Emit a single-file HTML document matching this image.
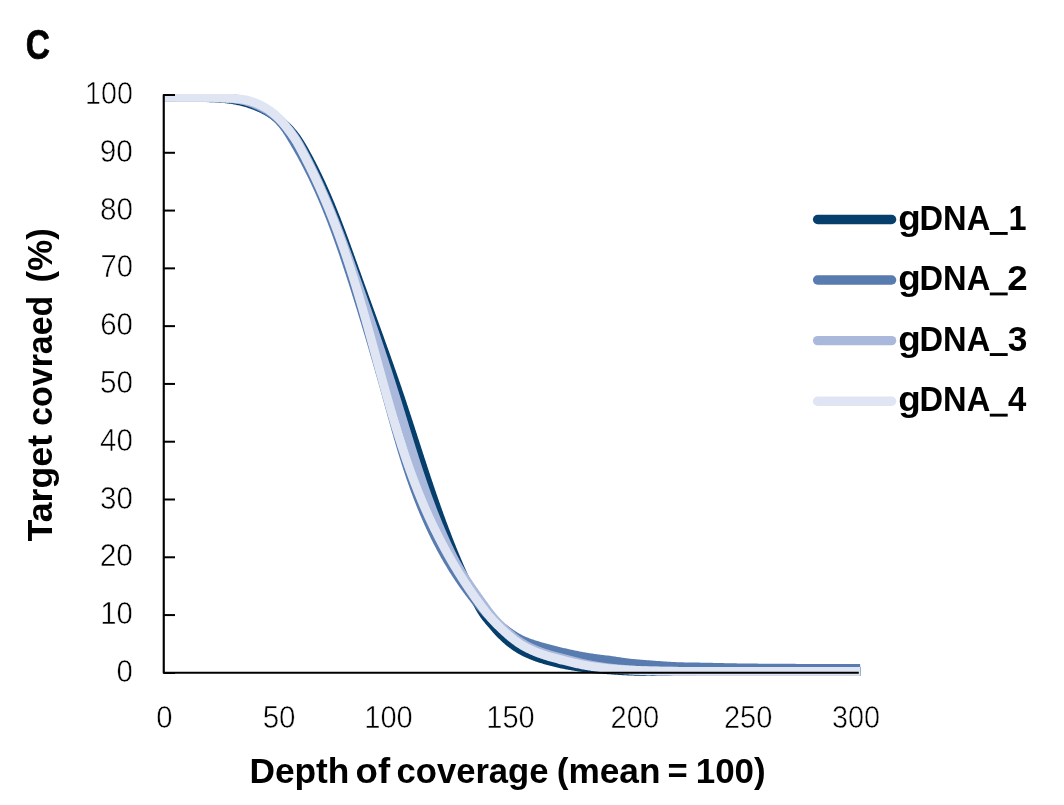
<!DOCTYPE html>
<html lang="en">
<head>
<meta charset="utf-8">
<title>Figure C - Depth of coverage</title>
<style>
html,body{margin:0;padding:0;background:#fff;}
body{width:1064px;height:805px;overflow:hidden;font-family:"Liberation Sans",sans-serif;}
svg{display:block;}
text{font-family:"Liberation Sans",sans-serif;fill:#000;}
.tick{font-size:30px;font-weight:400;}
.bold{font-weight:700;}
</style>
</head>
<body>
<svg width="1064" height="805" viewBox="0 0 1064 805">
<rect x="0" y="0" width="1064" height="805" fill="#ffffff"/>
<defs><clipPath id="plotclip"><rect x="164.85" y="94.0" width="695.95" height="600"/></clipPath></defs>
<g fill="none" stroke-width="8.8" stroke-linecap="butt" stroke-linejoin="round" clip-path="url(#plotclip)">
<path stroke="#063f6c" d="M164.90,97.40L165.90,97.40L166.90,97.40L167.90,97.40L168.90,97.40L169.90,97.40L170.90,97.40L171.90,97.40L172.90,97.40L173.90,97.40L174.90,97.40L175.90,97.40L176.90,97.40L177.90,97.40L178.90,97.40L179.90,97.40L180.90,97.41L181.90,97.41L182.90,97.41L183.90,97.41L184.90,97.42L185.90,97.42L186.90,97.42L187.90,97.43L188.90,97.43L189.90,97.44L190.90,97.44L191.90,97.45L192.90,97.45L193.90,97.46L194.90,97.47L195.90,97.48L196.90,97.49L197.90,97.50L198.90,97.51L199.90,97.53L200.90,97.54L201.90,97.56L202.90,97.57L203.90,97.59L204.90,97.62L205.90,97.64L206.90,97.66L207.90,97.69L208.90,97.72L209.90,97.76L210.90,97.79L211.90,97.83L212.89,97.87L213.89,97.92L214.89,97.96L215.89,98.02L216.89,98.07L217.89,98.13L218.88,98.20L219.88,98.27L220.88,98.34L221.87,98.42L222.87,98.51L223.87,98.60L224.86,98.69L225.85,98.79L226.85,98.90L227.84,99.02L228.83,99.14L229.82,99.27L230.81,99.41L231.80,99.56L232.79,99.71L233.77,99.88L234.75,100.05L235.74,100.23L236.72,100.43L237.70,100.63L238.67,100.84L239.65,101.05L240.62,101.28L241.59,101.52L242.56,101.76L243.53,102.02L244.49,102.28L245.45,102.55L246.41,102.83L247.37,103.11L248.32,103.41L249.28,103.71L250.23,104.02L251.17,104.34L252.12,104.67L253.06,105.01L253.99,105.35L254.93,105.71L255.86,106.07L256.79,106.45L257.71,106.83L258.63,107.22L259.54,107.62L260.45,108.03L261.36,108.45L262.26,108.88L263.15,109.32L264.04,109.78L264.93,110.24L265.80,110.71L266.68,111.20L267.54,111.69L268.40,112.20L269.25,112.72L270.10,113.24L270.94,113.78L271.77,114.33L272.60,114.89L273.42,115.46L274.24,116.04L275.05,116.62L275.85,117.21L276.65,117.82L277.44,118.42L278.23,119.04L279.01,119.66L279.79,120.29L280.56,120.93L281.33,121.57L282.09,122.22L282.85,122.88L283.59,123.54L284.34,124.21L285.07,124.89L285.80,125.57L286.52,126.26L287.24,126.96L287.94,127.67L288.64,128.38L289.33,129.10L290.01,129.83L290.68,130.57L291.34,131.31L292.00,132.07L292.64,132.83L293.28,133.60L293.91,134.37L294.52,135.16L295.13,135.95L295.73,136.75L296.32,137.56L296.89,138.37L297.46,139.19L298.02,140.02L298.57,140.85L299.12,141.69L299.65,142.53L300.18,143.38L300.70,144.23L301.21,145.09L301.72,145.95L302.23,146.81L302.73,147.68L303.23,148.54L303.72,149.41L304.21,150.28L304.70,151.16L305.19,152.03L305.67,152.90L306.15,153.78L306.64,154.66L307.11,155.54L307.59,156.41L308.06,157.29L308.54,158.18L309.01,159.06L309.48,159.94L309.94,160.83L310.41,161.71L310.87,162.60L311.33,163.49L311.79,164.37L312.25,165.26L312.70,166.15L313.15,167.05L313.60,167.94L314.05,168.83L314.50,169.73L314.95,170.62L315.39,171.52L315.83,172.41L316.27,173.31L316.71,174.21L317.14,175.11L317.58,176.01L318.01,176.91L318.44,177.82L318.87,178.72L319.30,179.62L319.72,180.53L320.15,181.43L320.57,182.34L320.99,183.25L321.41,184.16L321.82,185.07L322.24,185.98L322.65,186.89L323.06,187.80L323.47,188.71L323.88,189.62L324.29,190.54L324.69,191.45L325.10,192.36L325.50,193.28L325.90,194.20L326.30,195.11L326.70,196.03L327.09,196.95L327.49,197.87L327.88,198.79L328.27,199.71L328.66,200.63L329.05,201.55L329.44,202.47L329.82,203.39L330.21,204.32L330.59,205.24L330.97,206.17L331.35,207.09L331.73,208.02L332.11,208.94L332.48,209.87L332.86,210.80L333.23,211.72L333.61,212.65L333.98,213.58L334.35,214.51L334.72,215.44L335.08,216.37L335.45,217.30L335.82,218.23L336.18,219.16L336.54,220.09L336.91,221.02L337.27,221.96L337.63,222.89L337.99,223.82L338.35,224.76L338.70,225.69L339.06,226.62L339.42,227.56L339.77,228.49L340.12,229.43L340.48,230.36L340.83,231.30L341.18,232.24L341.53,233.17L341.88,234.11L342.23,235.05L342.58,235.98L342.93,236.92L343.27,237.86L343.62,238.80L343.96,239.74L344.31,240.67L344.65,241.61L345.00,242.55L345.34,243.49L345.68,244.43L346.03,245.37L346.37,246.31L346.71,247.25L347.05,248.19L347.39,249.13L347.73,250.07L348.07,251.01L348.41,251.95L348.75,252.89L349.09,253.83L349.42,254.78L349.76,255.72L350.10,256.66L350.44,257.60L350.77,258.54L351.11,259.48L351.45,260.42L351.78,261.37L352.12,262.31L352.46,263.25L352.79,264.19L353.13,265.13L353.47,266.07L353.80,267.02L354.14,267.96L354.48,268.90L354.81,269.84L355.15,270.78L355.49,271.72L355.82,272.67L356.16,273.61L356.50,274.55L356.83,275.49L357.17,276.43L357.51,277.37L357.85,278.31L358.18,279.26L358.52,280.20L358.86,281.14L359.20,282.08L359.54,283.02L359.88,283.96L360.22,284.90L360.55,285.84L360.89,286.78L361.23,287.72L361.57,288.66L361.91,289.60L362.25,290.55L362.59,291.49L362.93,292.43L363.27,293.37L363.61,294.31L363.95,295.25L364.29,296.19L364.63,297.13L364.97,298.07L365.31,299.01L365.65,299.95L365.99,300.89L366.34,301.83L366.68,302.77L367.02,303.71L367.36,304.65L367.70,305.59L368.04,306.53L368.38,307.47L368.72,308.41L369.06,309.35L369.40,310.29L369.75,311.23L370.09,312.17L370.43,313.11L370.77,314.05L371.11,314.99L371.45,315.93L371.79,316.87L372.13,317.81L372.47,318.75L372.82,319.69L373.16,320.63L373.50,321.57L373.84,322.51L374.18,323.45L374.52,324.39L374.86,325.33L375.20,326.27L375.54,327.21L375.88,328.15L376.22,329.09L376.56,330.03L376.90,330.97L377.24,331.91L377.58,332.85L377.92,333.79L378.26,334.73L378.60,335.68L378.94,336.62L379.28,337.56L379.62,338.50L379.96,339.44L380.29,340.38L380.63,341.32L380.97,342.26L381.31,343.20L381.65,344.14L381.98,345.09L382.32,346.03L382.66,346.97L383.00,347.91L383.33,348.85L383.67,349.79L384.01,350.73L384.34,351.68L384.68,352.62L385.01,353.56L385.35,354.50L385.68,355.44L386.02,356.39L386.35,357.33L386.69,358.27L387.02,359.21L387.36,360.16L387.69,361.10L388.02,362.04L388.36,362.98L388.69,363.93L389.02,364.87L389.35,365.81L389.68,366.76L390.02,367.70L390.35,368.65L390.68,369.59L391.01,370.53L391.34,371.48L391.67,372.42L392.00,373.37L392.32,374.31L392.65,375.25L392.98,376.20L393.31,377.14L393.64,378.09L393.96,379.03L394.29,379.98L394.62,380.92L394.94,381.87L395.27,382.82L395.59,383.76L395.92,384.71L396.24,385.65L396.56,386.60L396.89,387.55L397.21,388.49L397.53,389.44L397.85,390.39L398.17,391.33L398.49,392.28L398.81,393.23L399.13,394.17L399.45,395.12L399.77,396.07L400.09,397.02L400.41,397.97L400.73,398.91L401.04,399.86L401.36,400.81L401.68,401.76L401.99,402.71L402.31,403.66L402.62,404.61L402.94,405.56L403.25,406.51L403.56,407.46L403.88,408.41L404.19,409.36L404.50,410.30L404.81,411.25L405.13,412.21L405.44,413.16L405.75,414.11L406.06,415.06L406.37,416.01L406.68,416.96L406.99,417.91L407.30,418.86L407.61,419.81L407.92,420.76L408.23,421.71L408.54,422.66L408.85,423.61L409.15,424.57L409.46,425.52L409.77,426.47L410.08,427.42L410.39,428.37L410.69,429.32L411.00,430.27L411.31,431.23L411.62,432.18L411.92,433.13L412.23,434.08L412.54,435.03L412.85,435.98L413.15,436.94L413.46,437.89L413.77,438.84L414.07,439.79L414.38,440.74L414.69,441.69L414.99,442.65L415.30,443.60L415.61,444.55L415.91,445.50L416.22,446.45L416.53,447.40L416.84,448.36L417.14,449.31L417.45,450.26L417.76,451.21L418.06,452.16L418.37,453.11L418.68,454.07L418.99,455.02L419.30,455.97L419.60,456.92L419.91,457.87L420.22,458.82L420.53,459.77L420.84,460.72L421.15,461.67L421.46,462.63L421.77,463.58L422.08,464.53L422.39,465.48L422.70,466.43L423.01,467.38L423.32,468.33L423.63,469.28L423.94,470.23L424.26,471.18L424.57,472.13L424.88,473.08L425.20,474.03L425.51,474.98L425.82,475.93L426.14,476.88L426.45,477.83L426.77,478.78L427.08,479.72L427.40,480.67L427.72,481.62L428.03,482.57L428.35,483.52L428.67,484.47L428.99,485.41L429.30,486.36L429.62,487.31L429.94,488.26L430.26,489.20L430.59,490.15L430.91,491.10L431.23,492.05L431.55,492.99L431.87,493.94L432.20,494.88L432.52,495.83L432.85,496.78L433.17,497.72L433.50,498.67L433.83,499.61L434.15,500.56L434.48,501.50L434.81,502.45L435.14,503.39L435.47,504.33L435.80,505.28L436.13,506.22L436.47,507.16L436.80,508.11L437.13,509.05L437.47,509.99L437.80,510.93L438.14,511.88L438.48,512.82L438.81,513.76L439.15,514.70L439.49,515.64L439.83,516.58L440.17,517.52L440.51,518.46L440.86,519.40L441.20,520.34L441.54,521.28L441.89,522.22L442.23,523.15L442.58,524.09L442.93,525.03L443.28,525.97L443.63,526.90L443.98,527.84L444.33,528.78L444.68,529.71L445.03,530.65L445.39,531.58L445.74,532.52L446.10,533.45L446.46,534.39L446.81,535.32L447.17,536.25L447.53,537.19L447.89,538.12L448.26,539.05L448.62,539.98L448.98,540.91L449.35,541.85L449.72,542.78L450.08,543.71L450.45,544.64L450.82,545.57L451.19,546.49L451.56,547.42L451.94,548.35L452.31,549.28L452.69,550.20L453.06,551.13L453.44,552.06L453.82,552.98L454.20,553.91L454.58,554.83L454.96,555.76L455.35,556.68L455.73,557.60L456.12,558.52L456.51,559.45L456.89,560.37L457.29,561.29L457.68,562.21L458.07,563.13L458.47,564.05L458.86,564.96L459.26,565.88L459.66,566.80L460.06,567.71L460.46,568.63L460.87,569.54L461.27,570.46L461.68,571.37L462.09,572.28L462.50,573.20L462.91,574.11L463.32,575.02L463.73,575.93L464.15,576.84L464.57,577.75L464.99,578.65L465.41,579.56L465.83,580.47L466.26,581.37L466.68,582.28L467.11,583.18L467.54,584.08L467.98,584.98L468.41,585.89L468.84,586.79L469.28,587.68L469.72,588.58L470.16,589.48L470.60,590.38L471.05,591.27L471.49,592.17L471.94,593.06L472.39,593.95L472.84,594.85L473.30,595.74L473.75,596.63L474.21,597.52L474.67,598.41L475.13,599.29L475.59,600.18L476.06,601.06L476.53,601.95L477.00,602.83L477.47,603.71L477.94,604.59L478.42,605.47L478.90,606.35L479.39,607.22L479.88,608.09L480.38,608.95L480.89,609.81L481.40,610.67L481.92,611.51L482.46,612.35L483.00,613.19L483.56,614.01L484.12,614.83L484.70,615.64L485.29,616.44L485.89,617.24L486.50,618.03L487.12,618.81L487.75,619.59L488.38,620.36L489.02,621.13L489.67,621.90L490.32,622.67L490.97,623.43L491.62,624.19L492.28,624.95L492.93,625.71L493.59,626.47L494.25,627.22L494.91,627.98L495.58,628.73L496.24,629.48L496.91,630.22L497.59,630.96L498.26,631.70L498.94,632.43L499.63,633.16L500.32,633.88L501.02,634.60L501.72,635.30L502.43,636.01L503.14,636.70L503.86,637.39L504.59,638.07L505.33,638.74L506.07,639.40L506.82,640.06L507.58,640.71L508.34,641.36L509.11,641.99L509.89,642.62L510.68,643.24L511.47,643.85L512.27,644.45L513.07,645.04L513.88,645.63L514.70,646.20L515.53,646.76L516.36,647.32L517.20,647.86L518.04,648.39L518.89,648.91L519.75,649.42L520.61,649.91L521.48,650.40L522.35,650.88L523.23,651.34L524.12,651.80L525.01,652.25L525.91,652.68L526.81,653.11L527.72,653.53L528.63,653.93L529.55,654.33L530.47,654.72L531.40,655.11L532.32,655.48L533.25,655.85L534.19,656.21L535.12,656.56L536.06,656.90L537.01,657.24L537.95,657.57L538.90,657.89L539.84,658.21L540.79,658.52L541.75,658.83L542.70,659.12L543.66,659.42L544.62,659.70L545.58,659.99L546.54,660.26L547.50,660.53L548.46,660.80L549.43,661.06L550.39,661.32L551.36,661.58L552.33,661.82L553.30,662.07L554.27,662.31L555.24,662.55L556.22,662.78L557.19,663.01L558.16,663.23L559.14,663.45L560.12,663.66L561.09,663.88L562.07,664.08L563.05,664.28L564.03,664.48L565.01,664.68L565.99,664.87L566.98,665.05L567.96,665.23L568.94,665.41L569.93,665.59L570.91,665.76L571.90,665.93L572.88,666.10L573.87,666.26L574.86,666.42L575.85,666.58L576.83,666.73L577.82,666.88L578.81,667.03L579.80,667.18L580.79,667.32L581.78,667.46L582.77,667.59L583.76,667.72L584.75,667.84L585.75,667.96L586.74,668.08L587.73,668.19L588.73,668.30L589.72,668.40L590.71,668.50L591.71,668.59L592.71,668.69L593.70,668.77L594.70,668.86L595.69,668.94L596.69,669.02L597.69,669.10L598.68,669.17L599.68,669.25L600.68,669.32L601.68,669.39L602.68,669.45L603.67,669.52L604.67,669.58L605.67,669.65L606.67,669.71L607.66,669.78L608.66,669.84L609.66,669.91L610.66,669.97L611.66,670.04L612.65,670.11L613.65,670.17L614.65,670.24L615.65,670.31L616.65,670.38L617.64,670.45L618.64,670.51L619.64,670.58L620.64,670.64L621.63,670.70L622.63,670.76L623.63,670.81L624.63,670.87L625.63,670.91L626.63,670.96L627.62,671.00L628.62,671.05L629.62,671.08L630.62,671.12L631.62,671.15L632.62,671.18L633.62,671.21L634.62,671.24L635.62,671.27L636.62,671.29L637.62,671.32L638.62,671.34L639.62,671.36L640.62,671.38L641.62,671.39L642.62,671.41L643.62,671.42L644.62,671.43L645.62,671.45L646.62,671.45L647.62,671.46L648.62,671.47L649.62,671.47L650.62,671.47L651.62,671.48L652.62,671.48L653.62,671.48L654.62,671.48L655.62,671.48L656.62,671.48L657.62,671.48L658.62,671.48L659.62,671.48L660.62,671.48L661.62,671.48L662.62,671.48L663.62,671.48L664.62,671.48L665.62,671.48L666.62,671.48L667.62,671.48L668.62,671.48L669.62,671.48L670.62,671.48L671.62,671.48L672.62,671.48L673.62,671.48L674.62,671.48L675.62,671.48L676.62,671.48L677.62,671.48L678.62,671.48L679.62,671.48L680.62,671.48L681.62,671.48L682.62,671.48L683.62,671.48L684.62,671.48L685.62,671.48L686.62,671.48L687.62,671.48L688.62,671.48L689.62,671.48L690.62,671.48L691.62,671.48L692.62,671.48L693.62,671.48L694.62,671.48L695.62,671.48L696.62,671.48L697.62,671.48L698.62,671.48L699.62,671.48L700.62,671.48L701.62,671.48L702.62,671.48L703.62,671.48L704.62,671.48L705.62,671.48L706.62,671.48L707.62,671.48L708.62,671.48L709.62,671.48L710.62,671.48L711.62,671.48L712.62,671.48L713.62,671.48L714.62,671.48L715.62,671.48L716.62,671.48L717.62,671.48L718.62,671.48L719.62,671.48L720.62,671.48L721.62,671.48L722.62,671.48L723.62,671.48L724.62,671.48L725.62,671.48L726.62,671.48L727.62,671.48L728.62,671.48L729.62,671.48L730.62,671.48L731.62,671.48L732.62,671.48L733.62,671.48L734.62,671.48L735.62,671.48L736.62,671.48L737.62,671.48L738.62,671.48L739.62,671.48L740.62,671.48L741.62,671.48L742.62,671.48L743.62,671.48L744.62,671.48L745.62,671.48L746.62,671.48L747.62,671.48L748.62,671.48L749.62,671.48L750.62,671.48L751.62,671.48L752.62,671.48L753.62,671.48L754.62,671.48L755.62,671.48L756.62,671.48L757.62,671.48L758.62,671.48L759.62,671.48L760.62,671.48L761.62,671.48L762.62,671.48L763.62,671.48L764.62,671.48L765.62,671.48L766.62,671.48L767.62,671.48L768.62,671.48L769.62,671.48L770.62,671.48L771.62,671.48L772.62,671.48L773.62,671.48L774.62,671.48L775.62,671.48L776.62,671.48L777.62,671.48L778.62,671.48L779.62,671.48L780.62,671.48L781.62,671.48L782.62,671.48L783.62,671.48L784.62,671.48L785.62,671.48L786.62,671.48L787.62,671.48L788.62,671.48L789.62,671.48L790.62,671.48L791.62,671.48L792.62,671.48L793.62,671.48L794.62,671.48L795.62,671.48L796.62,671.48L797.62,671.48L798.62,671.48L799.62,671.48L800.62,671.48L801.62,671.48L802.62,671.48L803.62,671.48L804.62,671.48L805.62,671.48L806.62,671.48L807.62,671.48L808.62,671.48L809.62,671.48L810.62,671.48L811.62,671.48L812.62,671.48L813.62,671.48L814.62,671.48L815.62,671.48L816.62,671.48L817.62,671.48L818.62,671.48L819.62,671.48L820.62,671.48L821.62,671.48L822.62,671.48L823.62,671.48L824.62,671.48L825.62,671.48L826.62,671.48L827.62,671.48L828.62,671.48L829.62,671.48L830.62,671.48L831.62,671.48L832.62,671.48L833.62,671.48L834.62,671.48L835.62,671.48L836.62,671.48L837.62,671.48L838.62,671.48L839.62,671.48L840.62,671.48L841.62,671.48L842.62,671.48L843.62,671.48L844.62,671.48L845.62,671.48L846.62,671.48L847.62,671.48L848.62,671.48L849.62,671.48L850.62,671.48L851.62,671.48L852.62,671.48L853.62,671.48L854.62,671.48L855.62,671.48L856.62,671.48L857.62,671.48L858.62,671.48L859.62,671.48L860.62,671.48"/>
<path stroke="#587bb0" d="M164.90,97.20L165.90,97.20L166.90,97.20L167.90,97.20L168.90,97.20L169.90,97.20L170.90,97.20L171.90,97.20L172.90,97.20L173.90,97.20L174.90,97.20L175.90,97.20L176.90,97.20L177.90,97.20L178.90,97.20L179.90,97.20L180.90,97.20L181.90,97.20L182.90,97.20L183.90,97.20L184.90,97.20L185.90,97.20L186.90,97.20L187.90,97.20L188.90,97.20L189.90,97.20L190.90,97.20L191.90,97.20L192.90,97.20L193.90,97.20L194.90,97.20L195.90,97.21L196.90,97.21L197.90,97.21L198.90,97.21L199.90,97.22L200.90,97.22L201.90,97.23L202.90,97.24L203.90,97.25L204.90,97.26L205.90,97.27L206.90,97.28L207.90,97.29L208.90,97.31L209.90,97.33L210.90,97.34L211.90,97.37L212.90,97.39L213.90,97.41L214.90,97.44L215.90,97.47L216.90,97.50L217.90,97.54L218.90,97.58L219.89,97.62L220.89,97.66L221.89,97.71L222.89,97.77L223.89,97.83L224.89,97.89L225.88,97.96L226.88,98.04L227.88,98.12L228.87,98.21L229.87,98.30L230.86,98.40L231.86,98.51L232.85,98.63L233.84,98.75L234.83,98.88L235.82,99.02L236.81,99.18L237.79,99.34L238.77,99.51L239.75,99.70L240.73,99.90L241.70,100.11L242.67,100.33L243.64,100.57L244.60,100.83L245.55,101.10L246.51,101.39L247.45,101.69L248.40,102.01L249.33,102.34L250.27,102.69L251.20,103.05L252.13,103.42L253.05,103.80L253.97,104.20L254.89,104.60L255.80,105.01L256.71,105.43L257.62,105.85L258.52,106.28L259.42,106.72L260.32,107.17L261.21,107.63L262.09,108.09L262.97,108.56L263.85,109.05L264.71,109.54L265.57,110.04L266.42,110.56L267.27,111.09L268.10,111.63L268.93,112.18L269.75,112.75L270.56,113.33L271.36,113.92L272.15,114.53L272.93,115.15L273.70,115.78L274.47,116.42L275.22,117.08L275.96,117.75L276.69,118.43L277.41,119.12L278.11,119.82L278.81,120.53L279.50,121.26L280.17,121.99L280.83,122.73L281.48,123.49L282.12,124.25L282.75,125.03L283.37,125.81L283.98,126.60L284.57,127.40L285.16,128.21L285.74,129.02L286.31,129.84L286.87,130.66L287.42,131.50L287.97,132.33L288.51,133.17L289.04,134.02L289.57,134.87L290.10,135.72L290.62,136.57L291.13,137.43L291.65,138.29L292.16,139.15L292.67,140.01L293.18,140.87L293.69,141.73L294.20,142.59L294.71,143.46L295.21,144.32L295.71,145.18L296.21,146.05L296.71,146.92L297.21,147.78L297.71,148.65L298.20,149.52L298.70,150.39L299.19,151.26L299.68,152.13L300.16,153.01L300.65,153.88L301.13,154.76L301.61,155.63L302.09,156.51L302.57,157.39L303.05,158.27L303.52,159.15L303.99,160.03L304.46,160.91L304.93,161.80L305.40,162.68L305.86,163.57L306.32,164.45L306.78,165.34L307.24,166.23L307.70,167.12L308.16,168.01L308.61,168.90L309.06,169.79L309.51,170.68L309.96,171.58L310.40,172.47L310.85,173.37L311.29,174.27L311.73,175.16L312.17,176.06L312.60,176.96L313.04,177.86L313.47,178.76L313.90,179.67L314.33,180.57L314.76,181.47L315.19,182.38L315.61,183.28L316.03,184.19L316.45,185.10L316.87,186.01L317.29,186.91L317.70,187.82L318.12,188.73L318.53,189.65L318.94,190.56L319.35,191.47L319.76,192.38L320.16,193.30L320.56,194.21L320.97,195.13L321.37,196.04L321.76,196.96L322.16,197.88L322.56,198.80L322.95,199.72L323.34,200.64L323.73,201.56L324.12,202.48L324.51,203.40L324.90,204.32L325.28,205.25L325.66,206.17L326.04,207.09L326.42,208.02L326.80,208.95L327.18,209.87L327.55,210.80L327.93,211.73L328.30,212.65L328.67,213.58L329.04,214.51L329.41,215.44L329.78,216.37L330.14,217.30L330.51,218.23L330.87,219.17L331.23,220.10L331.59,221.03L331.95,221.96L332.31,222.90L332.66,223.83L333.02,224.77L333.37,225.70L333.72,226.64L334.07,227.58L334.42,228.51L334.77,229.45L335.12,230.39L335.46,231.33L335.81,232.26L336.15,233.20L336.50,234.14L336.84,235.08L337.18,236.02L337.52,236.96L337.86,237.90L338.19,238.85L338.53,239.79L338.86,240.73L339.20,241.67L339.53,242.61L339.86,243.56L340.20,244.50L340.53,245.45L340.86,246.39L341.18,247.33L341.51,248.28L341.84,249.22L342.16,250.17L342.49,251.12L342.81,252.06L343.14,253.01L343.46,253.95L343.78,254.90L344.10,255.85L344.42,256.80L344.74,257.74L345.06,258.69L345.38,259.64L345.69,260.59L346.01,261.54L346.33,262.48L346.64,263.43L346.96,264.38L347.27,265.33L347.58,266.28L347.90,267.23L348.21,268.18L348.52,269.13L348.83,270.08L349.14,271.03L349.45,271.98L349.76,272.93L350.07,273.88L350.38,274.84L350.69,275.79L351.00,276.74L351.30,277.69L351.61,278.64L351.92,279.59L352.22,280.55L352.53,281.50L352.84,282.45L353.14,283.40L353.45,284.35L353.75,285.31L354.05,286.26L354.36,287.21L354.66,288.17L354.96,289.12L355.27,290.07L355.57,291.03L355.87,291.98L356.17,292.93L356.47,293.89L356.77,294.84L357.07,295.79L357.37,296.75L357.67,297.70L357.97,298.66L358.27,299.61L358.57,300.57L358.86,301.52L359.16,302.47L359.46,303.43L359.75,304.38L360.05,305.34L360.35,306.30L360.64,307.25L360.94,308.21L361.23,309.16L361.53,310.12L361.82,311.07L362.11,312.03L362.41,312.98L362.70,313.94L362.99,314.90L363.28,315.85L363.58,316.81L363.87,317.77L364.16,318.72L364.45,319.68L364.74,320.64L365.03,321.59L365.32,322.55L365.61,323.51L365.90,324.47L366.19,325.42L366.48,326.38L366.76,327.34L367.05,328.30L367.34,329.25L367.63,330.21L367.91,331.17L368.20,332.13L368.49,333.09L368.77,334.04L369.06,335.00L369.34,335.96L369.63,336.92L369.91,337.88L370.20,338.84L370.48,339.80L370.76,340.75L371.05,341.71L371.33,342.67L371.61,343.63L371.89,344.59L372.18,345.55L372.46,346.51L372.74,347.47L373.02,348.43L373.30,349.39L373.58,350.35L373.86,351.31L374.14,352.27L374.42,353.23L374.70,354.19L374.98,355.15L375.26,356.11L375.53,357.07L375.81,358.03L376.09,358.99L376.37,359.95L376.64,360.91L376.92,361.88L377.20,362.84L377.47,363.80L377.75,364.76L378.03,365.72L378.30,366.68L378.58,367.64L378.85,368.60L379.12,369.57L379.40,370.53L379.67,371.49L379.95,372.45L380.22,373.41L380.49,374.37L380.77,375.34L381.04,376.30L381.31,377.26L381.58,378.22L381.85,379.19L382.13,380.15L382.40,381.11L382.67,382.07L382.94,383.04L383.21,384.00L383.48,384.96L383.75,385.92L384.02,386.89L384.29,387.85L384.56,388.81L384.83,389.78L385.10,390.74L385.36,391.70L385.63,392.67L385.90,393.63L386.17,394.59L386.44,395.56L386.70,396.52L386.97,397.48L387.24,398.45L387.50,399.41L387.77,400.38L388.04,401.34L388.30,402.30L388.57,403.27L388.84,404.23L389.10,405.19L389.37,406.16L389.64,407.12L389.90,408.09L390.17,409.05L390.44,410.01L390.70,410.98L390.97,411.94L391.24,412.90L391.50,413.87L391.77,414.83L392.04,415.80L392.31,416.76L392.57,417.72L392.84,418.69L393.11,419.65L393.38,420.61L393.65,421.58L393.92,422.54L394.19,423.50L394.46,424.46L394.73,425.43L395.00,426.39L395.27,427.35L395.54,428.31L395.81,429.28L396.09,430.24L396.36,431.20L396.63,432.16L396.91,433.12L397.18,434.09L397.46,435.05L397.74,436.01L398.01,436.97L398.29,437.93L398.57,438.89L398.85,439.85L399.13,440.81L399.41,441.77L399.69,442.73L399.97,443.69L400.26,444.65L400.54,445.61L400.82,446.57L401.11,447.52L401.40,448.48L401.68,449.44L401.97,450.40L402.26,451.35L402.55,452.31L402.84,453.27L403.13,454.22L403.43,455.18L403.72,456.14L404.02,457.09L404.31,458.05L404.61,459.00L404.91,459.96L405.21,460.91L405.51,461.86L405.81,462.82L406.12,463.77L406.42,464.72L406.73,465.67L407.03,466.63L407.34,467.58L407.65,468.53L407.96,469.48L408.27,470.43L408.59,471.38L408.90,472.33L409.22,473.28L409.54,474.22L409.86,475.17L410.18,476.12L410.50,477.07L410.82,478.01L411.15,478.96L411.47,479.90L411.80,480.85L412.13,481.79L412.46,482.73L412.79,483.68L413.13,484.62L413.46,485.56L413.80,486.50L414.14,487.44L414.48,488.38L414.82,489.32L415.16,490.26L415.51,491.20L415.86,492.14L416.21,493.08L416.56,494.01L416.91,494.95L417.26,495.88L417.62,496.82L417.98,497.75L418.34,498.69L418.70,499.62L419.06,500.55L419.42,501.48L419.79,502.41L420.16,503.34L420.53,504.27L420.90,505.20L421.28,506.13L421.65,507.05L422.03,507.98L422.41,508.90L422.79,509.83L423.17,510.75L423.56,511.67L423.95,512.60L424.34,513.52L424.73,514.44L425.12,515.36L425.52,516.27L425.91,517.19L426.31,518.11L426.71,519.02L427.12,519.94L427.52,520.85L427.93,521.77L428.34,522.68L428.75,523.59L429.16,524.50L429.58,525.41L430.00,526.32L430.42,527.23L430.84,528.13L431.26,529.04L431.69,529.94L432.12,530.85L432.55,531.75L432.98,532.65L433.42,533.55L433.85,534.45L434.29,535.35L434.73,536.25L435.18,537.14L435.62,538.04L436.07,538.93L436.52,539.82L436.97,540.72L437.43,541.61L437.88,542.50L438.34,543.38L438.80,544.27L439.26,545.16L439.73,546.04L440.20,546.93L440.67,547.81L441.14,548.69L441.61,549.57L442.09,550.45L442.57,551.33L443.05,552.21L443.53,553.08L444.02,553.96L444.50,554.83L445.00,555.70L445.49,556.57L445.98,557.44L446.48,558.31L446.98,559.17L447.48,560.04L447.99,560.90L448.49,561.76L449.00,562.62L449.51,563.48L450.03,564.34L450.55,565.19L451.06,566.05L451.59,566.90L452.11,567.75L452.64,568.60L453.17,569.45L453.70,570.30L454.23,571.14L454.77,571.99L455.31,572.83L455.85,573.67L456.39,574.51L456.94,575.35L457.49,576.18L458.04,577.02L458.59,577.85L459.15,578.68L459.71,579.51L460.27,580.34L460.83,581.16L461.40,581.99L461.97,582.81L462.54,583.63L463.11,584.45L463.69,585.27L464.27,586.08L464.85,586.89L465.43,587.71L466.02,588.52L466.61,589.32L467.20,590.13L467.79,590.93L468.39,591.74L468.99,592.54L469.59,593.34L470.19,594.13L470.80,594.93L471.41,595.72L472.02,596.51L472.63,597.30L473.25,598.09L473.87,598.88L474.49,599.66L475.11,600.44L475.74,601.22L476.36,602.00L476.99,602.78L477.63,603.55L478.26,604.32L478.90,605.09L479.54,605.86L480.18,606.63L480.83,607.39L481.48,608.15L482.14,608.90L482.79,609.65L483.46,610.40L484.13,611.14L484.80,611.87L485.49,612.60L486.17,613.32L486.87,614.03L487.57,614.74L488.29,615.43L489.00,616.12L489.73,616.81L490.46,617.48L491.20,618.15L491.95,618.81L492.71,619.47L493.46,620.12L494.23,620.76L495.00,621.40L495.77,622.04L496.55,622.67L497.33,623.30L498.12,623.92L498.91,624.54L499.70,625.15L500.49,625.77L501.29,626.38L502.09,626.99L502.89,627.59L503.69,628.20L504.49,628.80L505.30,629.40L506.10,630.00L506.91,630.60L507.72,631.19L508.53,631.78L509.35,632.37L510.17,632.95L510.99,633.52L511.81,634.09L512.64,634.65L513.48,635.20L514.32,635.74L515.16,636.27L516.01,636.78L516.87,637.29L517.73,637.78L518.60,638.26L519.48,638.72L520.36,639.17L521.25,639.60L522.15,640.03L523.05,640.44L523.96,640.83L524.88,641.22L525.80,641.59L526.73,641.96L527.66,642.32L528.60,642.66L529.54,643.01L530.48,643.34L531.43,643.67L532.38,643.99L533.33,644.31L534.28,644.62L535.23,644.93L536.19,645.23L537.14,645.53L538.10,645.82L539.06,646.12L540.02,646.40L540.98,646.69L541.94,646.97L542.90,647.25L543.86,647.52L544.82,647.79L545.79,648.06L546.75,648.33L547.71,648.59L548.68,648.85L549.65,649.10L550.61,649.36L551.58,649.61L552.55,649.86L553.52,650.10L554.49,650.35L555.46,650.59L556.43,650.82L557.40,651.06L558.38,651.29L559.35,651.53L560.32,651.75L561.30,651.98L562.27,652.21L563.25,652.43L564.22,652.65L565.20,652.87L566.17,653.09L567.15,653.31L568.13,653.52L569.10,653.74L570.08,653.95L571.06,654.16L572.04,654.37L573.02,654.57L573.99,654.78L574.97,654.98L575.95,655.18L576.93,655.38L577.92,655.57L578.90,655.76L579.88,655.95L580.86,656.14L581.84,656.32L582.83,656.50L583.81,656.67L584.80,656.85L585.78,657.02L586.77,657.18L587.75,657.35L588.74,657.51L589.73,657.66L590.72,657.81L591.70,657.96L592.69,658.11L593.68,658.25L594.67,658.39L595.66,658.53L596.66,658.66L597.65,658.79L598.64,658.91L599.63,659.04L600.62,659.16L601.62,659.28L602.61,659.40L603.60,659.51L604.60,659.63L605.59,659.75L606.58,659.87L607.57,659.99L608.57,660.12L609.56,660.24L610.55,660.37L611.54,660.51L612.53,660.65L613.52,660.79L614.51,660.93L615.50,661.08L616.48,661.23L617.47,661.39L618.46,661.54L619.45,661.69L620.44,661.84L621.43,661.99L622.41,662.14L623.40,662.28L624.39,662.42L625.38,662.56L626.37,662.69L627.36,662.81L628.35,662.93L629.35,663.05L630.34,663.16L631.33,663.26L632.33,663.36L633.32,663.46L634.32,663.56L635.31,663.65L636.31,663.74L637.30,663.83L638.30,663.91L639.30,663.99L640.29,664.08L641.29,664.16L642.29,664.23L643.29,664.31L644.28,664.39L645.28,664.46L646.28,664.54L647.28,664.61L648.28,664.69L649.27,664.76L650.27,664.84L651.27,664.91L652.27,664.98L653.26,665.06L654.26,665.13L655.26,665.21L656.26,665.28L657.25,665.36L658.25,665.43L659.25,665.51L660.25,665.58L661.24,665.66L662.24,665.73L663.24,665.80L664.24,665.87L665.24,665.94L666.23,666.01L667.23,666.07L668.23,666.14L669.23,666.20L670.23,666.26L671.22,666.31L672.22,666.37L673.22,666.42L674.22,666.47L675.22,666.51L676.22,666.55L677.22,666.59L678.21,666.62L679.21,666.66L680.21,666.69L681.21,666.71L682.21,666.74L683.21,666.76L684.21,666.79L685.21,666.81L686.21,666.82L687.21,666.84L688.21,666.86L689.21,666.87L690.21,666.89L691.21,666.90L692.21,666.92L693.21,666.93L694.21,666.95L695.21,666.96L696.21,666.97L697.21,666.99L698.21,667.00L699.21,667.02L700.21,667.03L701.21,667.05L702.21,667.06L703.21,667.08L704.21,667.10L705.21,667.11L706.21,667.13L707.21,667.15L708.21,667.17L709.21,667.19L710.21,667.22L711.21,667.24L712.21,667.26L713.21,667.28L714.21,667.31L715.21,667.33L716.21,667.35L717.21,667.38L718.21,667.40L719.21,667.43L720.20,667.45L721.20,667.47L722.20,667.50L723.20,667.52L724.20,667.54L725.20,667.56L726.20,667.59L727.20,667.61L728.20,667.63L729.20,667.64L730.20,667.66L731.20,667.68L732.20,667.70L733.20,667.71L734.20,667.73L735.20,667.75L736.20,667.76L737.20,667.78L738.20,667.79L739.20,667.80L740.20,667.82L741.20,667.83L742.20,667.84L743.20,667.86L744.20,667.87L745.20,667.88L746.20,667.89L747.20,667.91L748.20,667.92L749.20,667.93L750.20,667.94L751.20,667.95L752.20,667.96L753.20,667.98L754.20,667.99L755.20,668.00L756.20,668.01L757.20,668.02L758.20,668.03L759.20,668.04L760.20,668.05L761.20,668.06L762.20,668.07L763.20,668.07L764.20,668.08L765.20,668.09L766.20,668.10L767.20,668.11L768.20,668.12L769.20,668.12L770.20,668.13L771.20,668.14L772.20,668.15L773.20,668.15L774.20,668.16L775.20,668.17L776.20,668.17L777.20,668.18L778.20,668.19L779.20,668.19L780.20,668.20L781.20,668.20L782.20,668.21L783.20,668.22L784.20,668.22L785.20,668.23L786.20,668.23L787.20,668.24L788.20,668.24L789.20,668.25L790.20,668.25L791.20,668.25L792.20,668.26L793.20,668.26L794.20,668.27L795.20,668.27L796.20,668.28L797.20,668.28L798.20,668.28L799.20,668.29L800.20,668.29L801.20,668.30L802.20,668.30L803.20,668.30L804.20,668.31L805.20,668.31L806.20,668.31L807.20,668.32L808.20,668.32L809.20,668.32L810.20,668.33L811.20,668.33L812.20,668.33L813.20,668.33L814.20,668.34L815.20,668.34L816.20,668.34L817.20,668.34L818.20,668.35L819.20,668.35L820.20,668.35L821.20,668.35L822.20,668.35L823.20,668.36L824.20,668.36L825.20,668.36L826.20,668.36L827.20,668.36L828.20,668.36L829.20,668.37L830.20,668.37L831.20,668.37L832.20,668.37L833.20,668.37L834.20,668.37L835.20,668.38L836.20,668.38L837.20,668.38L838.20,668.38L839.20,668.38L840.20,668.38L841.20,668.38L842.20,668.39L843.20,668.39L844.20,668.39L845.20,668.39L846.20,668.39L847.20,668.39L848.20,668.39L849.20,668.39L850.20,668.39L851.20,668.39L852.20,668.40L853.20,668.40L854.20,668.40L855.20,668.40L856.20,668.40L857.20,668.40L858.20,668.40L859.20,668.40L860.20,668.40"/>
<path stroke="#aab9db" d="M164.90,97.42L165.90,97.42L166.90,97.42L167.90,97.43L168.90,97.43L169.90,97.44L170.90,97.44L171.90,97.45L172.90,97.46L173.90,97.46L174.90,97.47L175.90,97.47L176.90,97.48L177.90,97.48L178.90,97.49L179.90,97.50L180.90,97.50L181.90,97.51L182.90,97.51L183.90,97.52L184.90,97.52L185.90,97.53L186.90,97.53L187.90,97.54L188.90,97.54L189.90,97.55L190.90,97.55L191.90,97.56L192.90,97.56L193.90,97.57L194.90,97.58L195.90,97.58L196.90,97.59L197.90,97.60L198.90,97.61L199.90,97.62L200.90,97.63L201.90,97.64L202.90,97.66L203.90,97.67L204.90,97.69L205.90,97.71L206.90,97.73L207.90,97.75L208.90,97.77L209.90,97.79L210.90,97.82L211.90,97.85L212.90,97.88L213.90,97.91L214.89,97.95L215.89,97.98L216.89,98.02L217.89,98.06L218.89,98.10L219.89,98.15L220.89,98.19L221.89,98.24L222.89,98.29L223.89,98.34L224.89,98.39L225.88,98.44L226.88,98.49L227.88,98.55L228.88,98.61L229.88,98.67L230.87,98.74L231.87,98.82L232.87,98.90L233.86,98.99L234.85,99.09L235.85,99.20L236.84,99.31L237.83,99.44L238.82,99.58L239.80,99.73L240.79,99.90L241.77,100.07L242.75,100.26L243.72,100.46L244.70,100.68L245.67,100.91L246.63,101.15L247.60,101.41L248.56,101.68L249.51,101.96L250.47,102.25L251.42,102.56L252.36,102.88L253.30,103.22L254.24,103.56L255.17,103.92L256.10,104.29L257.03,104.67L257.95,105.06L258.86,105.46L259.77,105.87L260.68,106.30L261.57,106.73L262.47,107.18L263.35,107.64L264.23,108.11L265.10,108.59L265.97,109.08L266.83,109.59L267.68,110.11L268.52,110.64L269.36,111.18L270.19,111.74L271.01,112.31L271.82,112.88L272.62,113.48L273.42,114.08L274.21,114.69L274.99,115.31L275.76,115.95L276.52,116.59L277.27,117.25L278.02,117.91L278.75,118.58L279.48,119.27L280.20,119.96L280.91,120.66L281.62,121.36L282.32,122.08L283.01,122.80L283.69,123.53L284.37,124.27L285.04,125.01L285.70,125.76L286.36,126.51L287.01,127.27L287.66,128.03L288.31,128.80L288.95,129.57L289.58,130.34L290.21,131.12L290.83,131.91L291.44,132.69L292.05,133.49L292.65,134.29L293.25,135.09L293.83,135.90L294.41,136.71L294.98,137.53L295.54,138.36L296.09,139.19L296.63,140.03L297.16,140.87L297.68,141.72L298.20,142.58L298.71,143.44L299.21,144.30L299.70,145.17L300.19,146.04L300.68,146.91L301.16,147.79L301.64,148.66L302.11,149.54L302.59,150.43L303.06,151.31L303.53,152.19L303.99,153.07L304.46,153.96L304.92,154.85L305.39,155.73L305.85,156.62L306.30,157.51L306.76,158.40L307.22,159.29L307.67,160.18L308.12,161.07L308.58,161.96L309.03,162.86L309.47,163.75L309.92,164.65L310.36,165.54L310.81,166.44L311.25,167.33L311.69,168.23L312.13,169.13L312.56,170.03L313.00,170.93L313.43,171.83L313.87,172.73L314.30,173.64L314.73,174.54L315.16,175.44L315.58,176.35L316.01,177.25L316.43,178.16L316.85,179.06L317.27,179.97L317.69,180.88L318.11,181.79L318.53,182.70L318.94,183.61L319.36,184.52L319.77,185.43L320.18,186.34L320.59,187.25L321.00,188.16L321.40,189.08L321.81,189.99L322.21,190.91L322.62,191.82L323.02,192.74L323.42,193.65L323.82,194.57L324.22,195.49L324.61,196.41L325.01,197.32L325.40,198.24L325.79,199.16L326.18,200.08L326.57,201.00L326.96,201.93L327.35,202.85L327.74,203.77L328.12,204.69L328.51,205.62L328.89,206.54L329.27,207.46L329.65,208.39L330.03,209.31L330.41,210.24L330.79,211.16L331.16,212.09L331.54,213.02L331.91,213.95L332.29,214.87L332.66,215.80L333.03,216.73L333.40,217.66L333.77,218.59L334.14,219.52L334.51,220.45L334.87,221.38L335.24,222.31L335.60,223.24L335.96,224.17L336.33,225.10L336.69,226.04L337.05,226.97L337.41,227.90L337.77,228.84L338.13,229.77L338.48,230.70L338.84,231.64L339.19,232.57L339.55,233.51L339.90,234.44L340.26,235.38L340.61,236.31L340.96,237.25L341.31,238.19L341.66,239.12L342.01,240.06L342.36,241.00L342.71,241.93L343.06,242.87L343.40,243.81L343.75,244.75L344.10,245.69L344.44,246.63L344.78,247.56L345.13,248.50L345.47,249.44L345.81,250.38L346.16,251.32L346.50,252.26L346.84,253.20L347.18,254.14L347.52,255.08L347.86,256.02L348.20,256.96L348.54,257.90L348.88,258.84L349.22,259.79L349.55,260.73L349.89,261.67L350.23,262.61L350.57,263.55L350.90,264.49L351.24,265.43L351.57,266.38L351.91,267.32L352.25,268.26L352.58,269.20L352.92,270.14L353.25,271.09L353.58,272.03L353.92,272.97L354.25,273.91L354.59,274.86L354.92,275.80L355.25,276.74L355.59,277.69L355.92,278.63L356.25,279.57L356.59,280.51L356.92,281.46L357.25,282.40L357.58,283.34L357.91,284.29L358.25,285.23L358.58,286.17L358.91,287.12L359.24,288.06L359.57,289.00L359.90,289.95L360.24,290.89L360.57,291.83L360.90,292.78L361.23,293.72L361.56,294.67L361.89,295.61L362.22,296.55L362.55,297.50L362.88,298.44L363.21,299.39L363.54,300.33L363.86,301.28L364.19,302.22L364.52,303.16L364.85,304.11L365.18,305.05L365.51,306.00L365.83,306.94L366.16,307.89L366.49,308.83L366.82,309.78L367.14,310.72L367.47,311.67L367.80,312.61L368.12,313.56L368.45,314.50L368.77,315.45L369.10,316.39L369.42,317.34L369.75,318.29L370.07,319.23L370.40,320.18L370.72,321.12L371.05,322.07L371.37,323.02L371.70,323.96L372.02,324.91L372.34,325.85L372.66,326.80L372.99,327.75L373.31,328.69L373.63,329.64L373.95,330.59L374.27,331.53L374.60,332.48L374.92,333.43L375.24,334.38L375.56,335.32L375.88,336.27L376.20,337.22L376.52,338.17L376.84,339.11L377.16,340.06L377.47,341.01L377.79,341.96L378.11,342.90L378.43,343.85L378.75,344.80L379.06,345.75L379.38,346.70L379.70,347.65L380.01,348.59L380.33,349.54L380.65,350.49L380.96,351.44L381.28,352.39L381.59,353.34L381.91,354.29L382.22,355.24L382.53,356.19L382.85,357.14L383.16,358.09L383.47,359.04L383.79,359.99L384.10,360.94L384.41,361.89L384.72,362.84L385.03,363.79L385.34,364.74L385.65,365.69L385.96,366.64L386.27,367.59L386.58,368.54L386.89,369.49L387.20,370.44L387.51,371.39L387.82,372.35L388.12,373.30L388.43,374.25L388.74,375.20L389.04,376.15L389.35,377.11L389.65,378.06L389.96,379.01L390.26,379.96L390.57,380.91L390.87,381.87L391.18,382.82L391.48,383.77L391.78,384.73L392.09,385.68L392.39,386.63L392.69,387.59L392.99,388.54L393.29,389.49L393.59,390.45L393.89,391.40L394.19,392.35L394.49,393.31L394.79,394.26L395.09,395.22L395.39,396.17L395.68,397.13L395.98,398.08L396.28,399.04L396.57,399.99L396.87,400.95L397.17,401.90L397.46,402.86L397.76,403.81L398.05,404.77L398.35,405.72L398.64,406.68L398.94,407.63L399.23,408.59L399.52,409.55L399.82,410.50L400.11,411.46L400.41,412.41L400.70,413.37L400.99,414.33L401.28,415.28L401.58,416.24L401.87,417.20L402.16,418.15L402.46,419.11L402.75,420.06L403.04,421.02L403.33,421.98L403.63,422.93L403.92,423.89L404.21,424.84L404.50,425.80L404.80,426.76L405.09,427.71L405.38,428.67L405.68,429.63L405.97,430.58L406.26,431.54L406.56,432.49L406.85,433.45L407.14,434.40L407.44,435.36L407.73,436.32L408.03,437.27L408.32,438.23L408.62,439.18L408.91,440.14L409.21,441.09L409.51,442.05L409.80,443.00L410.10,443.96L410.40,444.91L410.70,445.87L410.99,446.82L411.29,447.78L411.59,448.73L411.89,449.68L412.19,450.64L412.49,451.59L412.79,452.55L413.09,453.50L413.40,454.45L413.70,455.41L414.00,456.36L414.31,457.31L414.61,458.26L414.91,459.22L415.22,460.17L415.53,461.12L415.83,462.07L416.14,463.02L416.45,463.98L416.76,464.93L417.07,465.88L417.38,466.83L417.69,467.78L418.00,468.73L418.31,469.68L418.63,470.63L418.94,471.58L419.26,472.53L419.57,473.47L419.89,474.42L420.21,475.37L420.52,476.32L420.84,477.27L421.16,478.21L421.49,479.16L421.81,480.11L422.13,481.05L422.45,482.00L422.78,482.95L423.10,483.89L423.43,484.84L423.76,485.78L424.09,486.73L424.42,487.67L424.75,488.61L425.08,489.56L425.42,490.50L425.75,491.44L426.08,492.38L426.42,493.33L426.76,494.27L427.10,495.21L427.44,496.15L427.78,497.09L428.12,498.03L428.46,498.97L428.81,499.91L429.16,500.84L429.50,501.78L429.85,502.72L430.20,503.66L430.55,504.59L430.90,505.53L431.26,506.46L431.61,507.40L431.97,508.33L432.33,509.27L432.68,510.20L433.04,511.13L433.41,512.07L433.77,513.00L434.13,513.93L434.50,514.86L434.86,515.79L435.23,516.72L435.60,517.65L435.97,518.58L436.35,519.50L436.72,520.43L437.10,521.36L437.47,522.28L437.85,523.21L438.23,524.14L438.61,525.06L439.00,525.98L439.38,526.91L439.77,527.83L440.16,528.75L440.54,529.67L440.94,530.59L441.33,531.51L441.72,532.43L442.12,533.35L442.51,534.27L442.91,535.18L443.31,536.10L443.71,537.02L444.12,537.93L444.52,538.85L444.93,539.76L445.34,540.67L445.75,541.58L446.16,542.49L446.57,543.40L446.99,544.31L447.41,545.22L447.83,546.13L448.25,547.04L448.67,547.94L449.10,548.85L449.53,549.75L449.96,550.65L450.39,551.55L450.83,552.45L451.27,553.35L451.71,554.25L452.15,555.15L452.60,556.04L453.05,556.93L453.50,557.82L453.96,558.71L454.42,559.60L454.88,560.49L455.35,561.37L455.82,562.25L456.29,563.13L456.77,564.01L457.25,564.89L457.74,565.76L458.23,566.63L458.72,567.50L459.22,568.37L459.72,569.23L460.23,570.10L460.73,570.96L461.25,571.81L461.76,572.67L462.28,573.52L462.81,574.38L463.33,575.23L463.86,576.07L464.40,576.92L464.94,577.76L465.48,578.60L466.02,579.44L466.56,580.28L467.11,581.12L467.66,581.95L468.22,582.78L468.77,583.62L469.33,584.45L469.89,585.27L470.45,586.10L471.02,586.93L471.58,587.75L472.15,588.57L472.72,589.40L473.29,590.22L473.86,591.04L474.43,591.86L475.01,592.68L475.58,593.49L476.16,594.31L476.74,595.13L477.32,595.94L477.89,596.76L478.47,597.57L479.05,598.39L479.63,599.20L480.21,600.02L480.80,600.83L481.38,601.64L481.96,602.46L482.54,603.27L483.12,604.09L483.70,604.90L484.29,605.71L484.87,606.52L485.45,607.33L486.04,608.14L486.63,608.95L487.22,609.76L487.81,610.56L488.41,611.36L489.01,612.16L489.62,612.95L490.23,613.74L490.85,614.52L491.48,615.30L492.11,616.07L492.75,616.84L493.40,617.60L494.05,618.35L494.71,619.10L495.38,619.85L496.05,620.59L496.73,621.33L497.41,622.06L498.10,622.79L498.80,623.51L499.50,624.23L500.20,624.94L500.91,625.65L501.62,626.35L502.34,627.05L503.06,627.75L503.78,628.44L504.51,629.12L505.24,629.81L505.97,630.49L506.71,631.16L507.46,631.83L508.20,632.50L508.96,633.16L509.71,633.81L510.47,634.46L511.24,635.11L512.01,635.75L512.79,636.38L513.57,637.00L514.35,637.62L515.15,638.23L515.95,638.83L516.75,639.42L517.56,640.00L518.38,640.57L519.20,641.14L520.03,641.69L520.86,642.23L521.70,642.77L522.55,643.29L523.41,643.81L524.27,644.32L525.13,644.81L526.00,645.30L526.88,645.78L527.76,646.25L528.65,646.70L529.54,647.15L530.44,647.59L531.34,648.02L532.25,648.44L533.16,648.86L534.07,649.26L534.99,649.65L535.91,650.03L536.84,650.41L537.77,650.77L538.70,651.13L539.64,651.48L540.58,651.82L541.52,652.15L542.46,652.48L543.41,652.80L544.36,653.11L545.31,653.42L546.27,653.72L547.22,654.02L548.18,654.31L549.14,654.60L550.10,654.88L551.06,655.16L552.02,655.44L552.98,655.71L553.95,655.97L554.91,656.24L555.88,656.50L556.84,656.75L557.81,657.01L558.78,657.26L559.74,657.52L560.71,657.77L561.68,658.02L562.65,658.27L563.62,658.52L564.59,658.77L565.56,659.02L566.52,659.28L567.49,659.53L568.46,659.78L569.43,660.04L570.40,660.29L571.36,660.54L572.33,660.80L573.30,661.05L574.27,661.30L575.24,661.55L576.21,661.79L577.18,662.04L578.15,662.28L579.12,662.51L580.09,662.74L581.06,662.97L582.04,663.20L583.01,663.42L583.99,663.63L584.97,663.84L585.94,664.05L586.92,664.25L587.90,664.45L588.88,664.64L589.86,664.83L590.84,665.02L591.83,665.21L592.81,665.39L593.80,665.56L594.78,665.74L595.77,665.91L596.75,666.08L597.74,666.24L598.73,666.40L599.72,666.56L600.71,666.71L601.70,666.86L602.69,667.01L603.68,667.15L604.67,667.29L605.66,667.42L606.65,667.55L607.64,667.68L608.63,667.80L609.62,667.92L610.62,668.03L611.61,668.14L612.60,668.25L613.60,668.36L614.59,668.46L615.58,668.56L616.58,668.66L617.57,668.76L618.57,668.86L619.56,668.95L620.56,669.04L621.55,669.13L622.55,669.22L623.55,669.31L624.54,669.39L625.54,669.48L626.54,669.56L627.53,669.64L628.53,669.72L629.53,669.80L630.53,669.87L631.53,669.95L632.53,670.02L633.52,670.09L634.52,670.15L635.52,670.22L636.52,670.28L637.52,670.34L638.52,670.39L639.52,670.45L640.52,670.50L641.52,670.55L642.52,670.60L643.51,670.64L644.51,670.68L645.51,670.72L646.51,670.76L647.51,670.79L648.51,670.82L649.51,670.85L650.51,670.88L651.51,670.91L652.51,670.93L653.51,670.95L654.51,670.98L655.50,671.00L656.50,671.02L657.50,671.04L658.50,671.06L659.50,671.07L660.50,671.09L661.50,671.11L662.50,671.13L663.50,671.14L664.50,671.16L665.50,671.17L666.50,671.19L667.50,671.20L668.50,671.22L669.50,671.23L670.50,671.24L671.50,671.26L672.50,671.27L673.50,671.28L674.50,671.29L675.50,671.31L676.50,671.32L677.50,671.33L678.50,671.34L679.50,671.35L680.50,671.36L681.50,671.37L682.50,671.38L683.50,671.39L684.50,671.40L685.50,671.40L686.50,671.41L687.50,671.42L688.50,671.43L689.50,671.44L690.50,671.44L691.50,671.45L692.50,671.46L693.50,671.46L694.50,671.47L695.50,671.47L696.50,671.48L697.51,671.48L698.51,671.49L699.51,671.49L700.51,671.50L701.51,671.50L702.51,671.51L703.51,671.51L704.51,671.52L705.51,671.52L706.51,671.53L707.51,671.53L708.51,671.53L709.51,671.54L710.51,671.54L711.51,671.55L712.51,671.55L713.51,671.55L714.51,671.56L715.51,671.56L716.51,671.56L717.51,671.57L718.51,671.57L719.51,671.57L720.51,671.58L721.51,671.58L722.51,671.58L723.51,671.59L724.51,671.59L725.51,671.59L726.51,671.60L727.51,671.60L728.51,671.60L729.51,671.60L730.51,671.61L731.51,671.61L732.51,671.61L733.51,671.61L734.51,671.62L735.51,671.62L736.51,671.62L737.51,671.62L738.51,671.63L739.51,671.63L740.51,671.63L741.51,671.63L742.51,671.63L743.51,671.63L744.51,671.64L745.51,671.64L746.51,671.64L747.51,671.64L748.51,671.64L749.51,671.64L750.51,671.64L751.51,671.64L752.51,671.65L753.51,671.65L754.51,671.65L755.51,671.65L756.51,671.65L757.51,671.65L758.51,671.65L759.51,671.65L760.51,671.65L761.51,671.65L762.51,671.65L763.51,671.65L764.51,671.65L765.51,671.65L766.51,671.65L767.51,671.65L768.51,671.65L769.51,671.65L770.51,671.65L771.51,671.65L772.51,671.65L773.51,671.65L774.51,671.65L775.51,671.65L776.51,671.65L777.51,671.65L778.51,671.65L779.51,671.65L780.51,671.65L781.51,671.65L782.51,671.65L783.51,671.65L784.51,671.65L785.51,671.65L786.51,671.65L787.51,671.65L788.51,671.65L789.51,671.65L790.51,671.65L791.51,671.65L792.51,671.65L793.51,671.65L794.51,671.65L795.51,671.65L796.51,671.65L797.51,671.65L798.51,671.65L799.51,671.65L800.51,671.65L801.51,671.65L802.51,671.65L803.51,671.65L804.51,671.65L805.51,671.65L806.51,671.65L807.51,671.65L808.51,671.65L809.51,671.65L810.51,671.65L811.51,671.65L812.51,671.65L813.51,671.65L814.51,671.65L815.51,671.65L816.51,671.65L817.51,671.65L818.51,671.65L819.51,671.65L820.51,671.65L821.51,671.65L822.51,671.65L823.51,671.65L824.51,671.65L825.51,671.65L826.51,671.65L827.51,671.65L828.51,671.65L829.51,671.65L830.51,671.65L831.51,671.65L832.51,671.65L833.51,671.65L834.51,671.65L835.51,671.65L836.51,671.65L837.51,671.65L838.51,671.65L839.51,671.65L840.51,671.65L841.51,671.65L842.51,671.65L843.51,671.65L844.51,671.65L845.51,671.65L846.51,671.65L847.51,671.65L848.51,671.65L849.51,671.65L850.51,671.65L851.51,671.65L852.51,671.65L853.51,671.65L854.51,671.65L855.51,671.65L856.51,671.65L857.51,671.65L858.51,671.65L859.51,671.65L860.51,671.65"/>
<path stroke="#dfe5f3" d="M164.90,97.30L165.90,97.30L166.90,97.30L167.90,97.30L168.90,97.30L169.90,97.30L170.90,97.30L171.90,97.30L172.90,97.30L173.90,97.30L174.90,97.30L175.90,97.30L176.90,97.30L177.90,97.30L178.90,97.30L179.90,97.30L180.90,97.30L181.90,97.30L182.90,97.30L183.90,97.30L184.90,97.30L185.90,97.30L186.90,97.30L187.90,97.30L188.90,97.30L189.90,97.30L190.90,97.30L191.90,97.30L192.90,97.30L193.90,97.30L194.90,97.30L195.90,97.30L196.90,97.31L197.90,97.31L198.90,97.31L199.90,97.31L200.90,97.32L201.90,97.32L202.90,97.33L203.90,97.33L204.90,97.34L205.90,97.35L206.90,97.36L207.90,97.37L208.90,97.38L209.90,97.40L210.90,97.41L211.90,97.43L212.90,97.45L213.90,97.47L214.90,97.50L215.90,97.53L216.90,97.55L217.90,97.59L218.90,97.62L219.89,97.66L220.89,97.70L221.89,97.74L222.89,97.79L223.89,97.83L224.89,97.88L225.89,97.94L226.89,97.99L227.89,98.05L228.88,98.11L229.88,98.17L230.88,98.23L231.88,98.30L232.88,98.37L233.88,98.44L234.87,98.52L235.87,98.60L236.87,98.69L237.86,98.78L238.85,98.89L239.85,99.00L240.84,99.12L241.82,99.25L242.81,99.39L243.79,99.55L244.77,99.72L245.74,99.91L246.71,100.12L247.68,100.35L248.64,100.59L249.60,100.85L250.56,101.13L251.51,101.43L252.46,101.74L253.40,102.07L254.34,102.41L255.27,102.77L256.20,103.14L257.12,103.53L258.03,103.93L258.95,104.34L259.85,104.76L260.75,105.20L261.64,105.65L262.53,106.11L263.41,106.58L264.28,107.07L265.14,107.57L265.99,108.08L266.84,108.60L267.68,109.14L268.51,109.69L269.33,110.26L270.14,110.84L270.94,111.43L271.73,112.04L272.51,112.65L273.29,113.28L274.05,113.92L274.81,114.58L275.55,115.24L276.29,115.91L277.01,116.60L277.73,117.29L278.43,118.00L279.13,118.71L279.81,119.44L280.49,120.17L281.16,120.91L281.82,121.66L282.47,122.41L283.12,123.18L283.76,123.94L284.39,124.72L285.02,125.50L285.65,126.28L286.27,127.06L286.88,127.85L287.50,128.65L288.11,129.44L288.71,130.24L289.32,131.04L289.91,131.84L290.51,132.65L291.10,133.45L291.68,134.27L292.26,135.08L292.83,135.90L293.39,136.73L293.95,137.55L294.50,138.39L295.04,139.23L295.57,140.07L296.10,140.92L296.61,141.77L297.12,142.63L297.63,143.49L298.12,144.36L298.62,145.23L299.10,146.10L299.59,146.98L300.07,147.85L300.54,148.73L301.02,149.61L301.49,150.49L301.96,151.38L302.43,152.26L302.89,153.15L303.36,154.03L303.82,154.92L304.28,155.80L304.74,156.69L305.20,157.58L305.66,158.47L306.12,159.36L306.57,160.25L307.02,161.14L307.48,162.03L307.93,162.93L308.37,163.82L308.82,164.71L309.27,165.61L309.71,166.51L310.15,167.40L310.59,168.30L311.03,169.20L311.47,170.10L311.91,171.00L312.34,171.90L312.78,172.80L313.21,173.70L313.64,174.60L314.07,175.50L314.50,176.41L314.92,177.31L315.35,178.22L315.77,179.12L316.19,180.03L316.62,180.94L317.03,181.85L317.45,182.75L317.87,183.66L318.28,184.57L318.70,185.48L319.11,186.39L319.52,187.31L319.93,188.22L320.34,189.13L320.74,190.05L321.15,190.96L321.55,191.87L321.95,192.79L322.36,193.71L322.75,194.62L323.15,195.54L323.55,196.46L323.94,197.38L324.34,198.30L324.73,199.22L325.12,200.14L325.51,201.06L325.90,201.98L326.29,202.90L326.67,203.82L327.06,204.75L327.44,205.67L327.82,206.59L328.20,207.52L328.58,208.44L328.96,209.37L329.34,210.30L329.71,211.22L330.09,212.15L330.46,213.08L330.83,214.01L331.20,214.94L331.57,215.87L331.94,216.80L332.30,217.73L332.67,218.66L333.03,219.59L333.39,220.52L333.75,221.45L334.11,222.39L334.47,223.32L334.83,224.25L335.19,225.19L335.54,226.12L335.90,227.06L336.25,227.99L336.60,228.93L336.95,229.87L337.30,230.80L337.65,231.74L337.99,232.68L338.34,233.62L338.68,234.56L339.03,235.50L339.37,236.43L339.71,237.37L340.05,238.32L340.39,239.26L340.72,240.20L341.06,241.14L341.40,242.08L341.73,243.02L342.06,243.97L342.40,244.91L342.73,245.85L343.06,246.80L343.39,247.74L343.71,248.69L344.04,249.63L344.37,250.58L344.69,251.52L345.01,252.47L345.34,253.42L345.66,254.36L345.98,255.31L346.30,256.26L346.62,257.21L346.93,258.15L347.25,259.10L347.57,260.05L347.88,261.00L348.19,261.95L348.51,262.90L348.82,263.85L349.13,264.80L349.44,265.75L349.75,266.70L350.06,267.65L350.36,268.60L350.67,269.56L350.98,270.51L351.28,271.46L351.58,272.41L351.89,273.37L352.19,274.32L352.49,275.27L352.79,276.23L353.09,277.18L353.39,278.14L353.69,279.09L353.99,280.05L354.28,281.00L354.58,281.96L354.87,282.91L355.17,283.87L355.46,284.82L355.75,285.78L356.04,286.74L356.34,287.69L356.63,288.65L356.92,289.61L357.20,290.56L357.49,291.52L357.78,292.48L358.07,293.44L358.35,294.39L358.64,295.35L358.92,296.31L359.21,297.27L359.49,298.23L359.78,299.19L360.06,300.15L360.34,301.11L360.62,302.07L360.90,303.03L361.18,303.99L361.46,304.95L361.74,305.91L362.02,306.87L362.30,307.83L362.58,308.79L362.85,309.75L363.13,310.71L363.41,311.67L363.68,312.63L363.96,313.59L364.23,314.56L364.51,315.52L364.78,316.48L365.05,317.44L365.32,318.40L365.60,319.36L365.87,320.33L366.14,321.29L366.41,322.25L366.68,323.21L366.95,324.18L367.22,325.14L367.49,326.10L367.76,327.07L368.03,328.03L368.30,328.99L368.57,329.96L368.84,330.92L369.10,331.88L369.37,332.85L369.64,333.81L369.91,334.77L370.17,335.74L370.44,336.70L370.71,337.67L370.97,338.63L371.24,339.59L371.50,340.56L371.77,341.52L372.03,342.49L372.30,343.45L372.56,344.41L372.83,345.38L373.09,346.34L373.36,347.31L373.62,348.27L373.89,349.24L374.15,350.20L374.42,351.16L374.68,352.13L374.94,353.09L375.21,354.06L375.47,355.02L375.73,355.99L376.00,356.95L376.26,357.92L376.53,358.88L376.79,359.85L377.05,360.81L377.32,361.78L377.58,362.74L377.84,363.70L378.11,364.67L378.37,365.63L378.64,366.60L378.90,367.56L379.16,368.53L379.43,369.49L379.69,370.46L379.96,371.42L380.22,372.39L380.48,373.35L380.75,374.31L381.01,375.28L381.28,376.24L381.54,377.21L381.81,378.17L382.08,379.13L382.34,380.10L382.61,381.06L382.87,382.03L383.14,382.99L383.41,383.95L383.67,384.92L383.94,385.88L384.21,386.85L384.48,387.81L384.74,388.77L385.01,389.74L385.28,390.70L385.55,391.66L385.82,392.62L386.09,393.59L386.36,394.55L386.63,395.51L386.90,396.48L387.17,397.44L387.44,398.40L387.71,399.36L387.99,400.33L388.26,401.29L388.53,402.25L388.81,403.21L389.08,404.17L389.36,405.13L389.63,406.10L389.91,407.06L390.18,408.02L390.46,408.98L390.74,409.94L391.02,410.90L391.29,411.86L391.57,412.82L391.85,413.78L392.13,414.74L392.41,415.70L392.70,416.66L392.98,417.62L393.26,418.58L393.54,419.54L393.83,420.50L394.11,421.45L394.40,422.41L394.69,423.37L394.97,424.33L395.26,425.29L395.55,426.24L395.84,427.20L396.13,428.16L396.42,429.11L396.71,430.07L397.01,431.03L397.30,431.98L397.60,432.94L397.89,433.89L398.19,434.85L398.48,435.80L398.78,436.76L399.08,437.71L399.38,438.67L399.68,439.62L399.99,440.57L400.29,441.53L400.59,442.48L400.90,443.43L401.20,444.38L401.51,445.33L401.82,446.29L402.13,447.24L402.44,448.19L402.75,449.14L403.06,450.09L403.38,451.04L403.69,451.99L404.01,452.94L404.32,453.88L404.64,454.83L404.96,455.78L405.28,456.73L405.60,457.67L405.92,458.62L406.25,459.57L406.57,460.51L406.90,461.46L407.23,462.40L407.55,463.35L407.88,464.29L408.21,465.23L408.55,466.18L408.88,467.12L409.22,468.06L409.55,469.00L409.89,469.95L410.23,470.89L410.57,471.83L410.91,472.77L411.25,473.71L411.60,474.64L411.94,475.58L412.29,476.52L412.64,477.46L412.99,478.40L413.34,479.33L413.69,480.27L414.04,481.20L414.40,482.14L414.76,483.07L415.11,484.01L415.47,484.94L415.84,485.87L416.20,486.80L416.56,487.73L416.93,488.66L417.29,489.59L417.66,490.52L418.03,491.45L418.40,492.38L418.78,493.31L419.15,494.24L419.53,495.16L419.91,496.09L420.29,497.01L420.67,497.94L421.05,498.86L421.43,499.79L421.82,500.71L422.20,501.63L422.59,502.55L422.98,503.47L423.38,504.39L423.77,505.31L424.16,506.23L424.56,507.15L424.96,508.07L425.36,508.98L425.76,509.90L426.16,510.81L426.57,511.73L426.97,512.64L427.38,513.55L427.79,514.47L428.20,515.38L428.62,516.29L429.03,517.20L429.45,518.11L429.87,519.02L430.29,519.92L430.71,520.83L431.13,521.74L431.56,522.64L431.98,523.55L432.41,524.45L432.84,525.35L433.27,526.25L433.71,527.15L434.14,528.05L434.58,528.95L435.02,529.85L435.46,530.75L435.90,531.65L436.35,532.54L436.79,533.44L437.24,534.33L437.69,535.22L438.14,536.12L438.59,537.01L439.05,537.90L439.50,538.79L439.96,539.68L440.42,540.57L440.88,541.45L441.35,542.34L441.81,543.22L442.28,544.11L442.75,544.99L443.22,545.87L443.69,546.76L444.16,547.64L444.64,548.52L445.12,549.39L445.60,550.27L446.08,551.15L446.56,552.02L447.05,552.90L447.53,553.77L448.02,554.64L448.51,555.52L449.00,556.39L449.50,557.26L449.99,558.12L450.49,558.99L450.99,559.86L451.49,560.72L451.99,561.59L452.50,562.45L453.00,563.31L453.51,564.17L454.02,565.03L454.53,565.89L455.05,566.75L455.56,567.61L456.08,568.46L456.60,569.32L457.12,570.17L457.64,571.03L458.16,571.88L458.69,572.73L459.22,573.58L459.75,574.43L460.28,575.27L460.81,576.12L461.35,576.96L461.88,577.81L462.42,578.65L462.96,579.49L463.50,580.33L464.05,581.17L464.59,582.01L465.14,582.85L465.69,583.68L466.24,584.52L466.79,585.35L467.34,586.18L467.90,587.02L468.46,587.85L469.01,588.68L469.58,589.50L470.14,590.33L470.70,591.16L471.27,591.98L471.84,592.80L472.41,593.63L472.98,594.45L473.55,595.27L474.12,596.08L474.70,596.90L475.28,597.72L475.86,598.53L476.44,599.35L477.02,600.16L477.61,600.97L478.19,601.78L478.78,602.59L479.37,603.40L479.96,604.20L480.55,605.01L481.15,605.81L481.74,606.61L482.34,607.41L482.95,608.21L483.55,609.01L484.16,609.80L484.77,610.59L485.39,611.38L486.01,612.16L486.64,612.94L487.27,613.71L487.91,614.48L488.55,615.24L489.20,616.00L489.85,616.76L490.51,617.51L491.17,618.26L491.84,619.00L492.52,619.74L493.19,620.48L493.88,621.21L494.57,621.94L495.26,622.66L495.95,623.38L496.66,624.10L497.36,624.81L498.07,625.52L498.78,626.22L499.49,626.92L500.21,627.62L500.93,628.31L501.66,629.00L502.39,629.69L503.12,630.37L503.85,631.05L504.59,631.73L505.33,632.40L506.08,633.07L506.82,633.74L507.57,634.40L508.33,635.06L509.09,635.71L509.85,636.36L510.62,637.00L511.39,637.64L512.17,638.27L512.95,638.90L513.74,639.51L514.53,640.12L515.33,640.72L516.14,641.31L516.95,641.89L517.76,642.46L518.58,643.02L519.41,643.57L520.25,644.11L521.09,644.64L521.94,645.16L522.80,645.67L523.66,646.17L524.53,646.66L525.40,647.14L526.28,647.61L527.17,648.07L528.06,648.53L528.96,648.97L529.86,649.40L530.76,649.83L531.67,650.25L532.58,650.65L533.50,651.05L534.42,651.44L535.34,651.82L536.27,652.20L537.20,652.56L538.13,652.92L539.07,653.27L540.01,653.61L540.95,653.95L541.89,654.28L542.84,654.60L543.79,654.92L544.74,655.23L545.69,655.54L546.64,655.84L547.60,656.14L548.56,656.43L549.52,656.71L550.47,657.00L551.44,657.28L552.40,657.55L553.36,657.82L554.32,658.09L555.29,658.35L556.26,658.61L557.22,658.86L558.19,659.12L559.16,659.37L560.13,659.62L561.10,659.87L562.07,660.11L563.04,660.35L564.01,660.60L564.98,660.84L565.95,661.08L566.92,661.32L567.89,661.56L568.86,661.80L569.84,662.03L570.81,662.27L571.78,662.50L572.75,662.73L573.73,662.96L574.70,663.19L575.68,663.41L576.65,663.63L577.63,663.85L578.61,664.06L579.58,664.27L580.56,664.48L581.54,664.68L582.52,664.87L583.50,665.06L584.48,665.24L585.47,665.42L586.45,665.59L587.44,665.76L588.42,665.93L589.41,666.09L590.39,666.24L591.38,666.39L592.37,666.54L593.36,666.68L594.35,666.82L595.34,666.96L596.33,667.10L597.32,667.23L598.32,667.36L599.31,667.48L600.30,667.61L601.29,667.73L602.29,667.85L603.28,667.97L604.27,668.08L605.27,668.19L606.26,668.30L607.25,668.41L608.25,668.51L609.24,668.61L610.24,668.71L611.23,668.80L612.23,668.89L613.23,668.98L614.22,669.06L615.22,669.14L616.22,669.22L617.21,669.30L618.21,669.37L619.21,669.44L620.21,669.51L621.20,669.57L622.20,669.63L623.20,669.69L624.20,669.75L625.20,669.81L626.19,669.87L627.19,669.92L628.19,669.97L629.19,670.02L630.19,670.07L631.19,670.12L632.19,670.17L633.19,670.21L634.18,670.26L635.18,670.30L636.18,670.34L637.18,670.39L638.18,670.43L639.18,670.46L640.18,670.50L641.18,670.54L642.18,670.58L643.18,670.61L644.18,670.65L645.18,670.68L646.18,670.71L647.18,670.74L648.18,670.77L649.18,670.80L650.18,670.82L651.17,670.85L652.17,670.87L653.17,670.90L654.17,670.92L655.17,670.94L656.17,670.96L657.17,670.98L658.17,671.00L659.17,671.02L660.17,671.04L661.17,671.06L662.17,671.08L663.17,671.10L664.17,671.11L665.17,671.13L666.17,671.14L667.17,671.16L668.17,671.17L669.17,671.19L670.17,671.20L671.17,671.21L672.17,671.22L673.17,671.23L674.17,671.24L675.17,671.25L676.17,671.26L677.17,671.27L678.17,671.28L679.17,671.29L680.17,671.29L681.17,671.30L682.17,671.30L683.17,671.31L684.17,671.31L685.17,671.32L686.17,671.32L687.17,671.33L688.17,671.33L689.17,671.34L690.17,671.34L691.17,671.34L692.17,671.35L693.17,671.35L694.17,671.35L695.17,671.36L696.17,671.36L697.17,671.36L698.17,671.37L699.17,671.37L700.17,671.37L701.17,671.37L702.17,671.38L703.17,671.38L704.17,671.38L705.17,671.38L706.17,671.38L707.17,671.39L708.17,671.39L709.17,671.39L710.17,671.39L711.17,671.39L712.17,671.39L713.17,671.39L714.17,671.40L715.17,671.40L716.17,671.40L717.17,671.40L718.17,671.40L719.17,671.40L720.17,671.40L721.17,671.40L722.17,671.40L723.17,671.40L724.17,671.40L725.17,671.40L726.17,671.40L727.17,671.40L728.17,671.40L729.17,671.40L730.17,671.40L731.17,671.40L732.17,671.40L733.17,671.40L734.17,671.40L735.17,671.40L736.17,671.40L737.17,671.40L738.17,671.40L739.17,671.40L740.17,671.40L741.17,671.40L742.17,671.40L743.17,671.40L744.17,671.40L745.17,671.40L746.17,671.40L747.17,671.40L748.17,671.40L749.17,671.40L750.17,671.40L751.17,671.40L752.17,671.40L753.17,671.40L754.17,671.40L755.17,671.40L756.17,671.40L757.17,671.40L758.17,671.40L759.17,671.40L760.17,671.40L761.17,671.40L762.17,671.40L763.17,671.40L764.17,671.40L765.17,671.40L766.17,671.40L767.17,671.40L768.17,671.40L769.17,671.40L770.17,671.40L771.17,671.40L772.17,671.40L773.17,671.40L774.17,671.40L775.17,671.40L776.17,671.40L777.17,671.40L778.17,671.40L779.17,671.40L780.17,671.40L781.17,671.40L782.17,671.40L783.17,671.40L784.17,671.40L785.17,671.40L786.17,671.40L787.17,671.40L788.17,671.40L789.17,671.40L790.17,671.40L791.17,671.40L792.17,671.40L793.17,671.40L794.17,671.40L795.17,671.40L796.17,671.40L797.17,671.40L798.17,671.40L799.17,671.40L800.17,671.40L801.17,671.40L802.17,671.40L803.17,671.40L804.17,671.40L805.17,671.40L806.17,671.40L807.17,671.40L808.17,671.40L809.17,671.40L810.17,671.40L811.17,671.40L812.17,671.40L813.17,671.40L814.17,671.40L815.17,671.40L816.17,671.40L817.17,671.40L818.17,671.40L819.17,671.40L820.17,671.40L821.17,671.40L822.17,671.40L823.17,671.40L824.17,671.40L825.17,671.40L826.17,671.40L827.17,671.40L828.17,671.40L829.17,671.40L830.17,671.40L831.17,671.40L832.17,671.40L833.17,671.40L834.17,671.40L835.17,671.40L836.17,671.40L837.17,671.40L838.17,671.40L839.17,671.40L840.17,671.40L841.17,671.40L842.17,671.40L843.17,671.40L844.17,671.40L845.17,671.40L846.17,671.40L847.17,671.40L848.17,671.40L849.17,671.40L850.17,671.40L851.17,671.40L852.17,671.40L853.17,671.40L854.17,671.40L855.17,671.40L856.17,671.40L857.17,671.40L858.17,671.40L859.17,671.40L860.17,671.40"/>
</g>
<g fill="none" stroke="#000" stroke-linecap="butt" stroke-linejoin="round">
<path stroke-width="2.15" d="M175,95.0 H163.75 V672.85 H175"/>
<path stroke-width="2" d="M175,672.85 H858.8"/>
<path stroke-width="2" d="M163.75,152.78 H175"/>
<path stroke-width="2" d="M163.75,210.57 H175"/>
<path stroke-width="2" d="M163.75,268.36 H175"/>
<path stroke-width="2" d="M163.75,326.14 H175"/>
<path stroke-width="2" d="M163.75,383.93 H175"/>
<path stroke-width="2" d="M163.75,441.71 H175"/>
<path stroke-width="2" d="M163.75,499.50 H175"/>
<path stroke-width="2" d="M163.75,557.28 H175"/>
<path stroke-width="2" d="M163.75,615.07 H175"/>
</g>
<g opacity="0.999">
<g stroke="#fff" stroke-width="0.55">
<text font-size="31.6" transform="translate(85.00,104.10) scale(0.9076,1)">100</text>
<text font-size="31.6" transform="translate(99.73,161.88) scale(0.9447,1)">90</text>
<text font-size="31.6" transform="translate(99.89,219.67) scale(0.9401,1)">80</text>
<text font-size="31.6" transform="translate(100.42,277.46) scale(0.9245,1)">70</text>
<text font-size="31.6" transform="translate(100.18,335.24) scale(0.9316,1)">60</text>
<text font-size="31.6" transform="translate(99.96,393.03) scale(0.9379,1)">50</text>
<text font-size="31.6" transform="translate(99.98,450.81) scale(0.9373,1)">40</text>
<text font-size="31.6" transform="translate(100.04,508.60) scale(0.9356,1)">30</text>
<text font-size="31.6" transform="translate(99.65,566.38) scale(0.9470,1)">20</text>
<text font-size="31.6" transform="translate(100.35,624.17) scale(0.9264,1)">10</text>
<text font-size="31.6" transform="translate(116.58,681.95) scale(0.9278,1)">0</text>
<text font-size="31.6" transform="translate(156.28,727.80) scale(0.9278,1)">0</text>
<text font-size="31.6" transform="translate(262.67,727.80) scale(0.9348,1)">50</text>
<text font-size="31.6" transform="translate(364.27,727.80) scale(0.9199,1)">100</text>
<text font-size="31.6" transform="translate(486.27,727.80) scale(0.9178,1)">150</text>
<text font-size="31.6" transform="translate(610.60,727.80) scale(0.9193,1)">200</text>
<text font-size="31.6" transform="translate(723.90,727.80) scale(0.9193,1)">250</text>
<text font-size="31.6" transform="translate(831.97,727.80) scale(0.9121,1)">300</text>
</g>
<g stroke="#000" stroke-width="0.7" stroke-linejoin="round"><text class="bold" font-size="41.7" transform="translate(25.66,58.80) scale(0.8055,1)">C</text></g>
<text class="bold" font-size="35.4" transform="translate(249.42,782.50) scale(0.9973,1)">Depth</text>
<text class="bold" font-size="35.4" transform="translate(355.54,782.50) scale(1.0332,1)">of</text>
<text class="bold" font-size="35.4" transform="translate(396.51,782.50) scale(0.9782,1)">coverage</text>
<text class="bold" font-size="35.4" transform="translate(556.64,782.50) scale(0.9964,1)">(mean</text>
<text class="bold" font-size="35.4" transform="translate(667.53,782.50) scale(0.9774,1)">=</text>
<text class="bold" font-size="35.4" transform="translate(695.71,782.50) scale(0.9878,1)">100)</text>
<text class="bold" font-size="35.4" transform="translate(51.80,541.46) rotate(-90) scale(1.0097,1)">Target</text>
<text class="bold" font-size="35.4" transform="translate(51.80,425.76) rotate(-90) scale(0.9580,1)">covraed</text>
<text class="bold" font-size="35.4" transform="translate(51.80,282.44) rotate(-90) scale(0.9843,1)">(%)</text>
<line x1="817.6" y1="219.5" x2="891.6" y2="219.5" stroke="#063f6c" stroke-width="9.4" stroke-linecap="round"/>
<text class="bold" font-size="35.4" transform="translate(898.13,229.60) scale(1.0404,1)">g</text>
<text class="bold" font-size="35.4" transform="translate(919.50,229.60) scale(0.9228,1)">DNA</text>
<rect x="989.8" y="232.00" width="17.9" height="2.9" fill="#000"/>
<text class="bold" font-size="35.4" transform="translate(1008.47,229.60) scale(0.9173,1)">1</text>
<line x1="817.6" y1="280.0" x2="891.6" y2="280.0" stroke="#587bb0" stroke-width="9.4" stroke-linecap="round"/>
<text class="bold" font-size="35.4" transform="translate(898.13,290.10) scale(1.0404,1)">g</text>
<text class="bold" font-size="35.4" transform="translate(919.50,290.10) scale(0.9228,1)">DNA</text>
<rect x="989.8" y="292.50" width="17.9" height="2.9" fill="#000"/>
<text class="bold" font-size="35.4" transform="translate(1007.32,290.10) scale(1.0358,1)">2</text>
<line x1="817.6" y1="340.6" x2="891.6" y2="340.6" stroke="#aab9db" stroke-width="9.4" stroke-linecap="round"/>
<text class="bold" font-size="35.4" transform="translate(898.13,350.70) scale(1.0404,1)">g</text>
<text class="bold" font-size="35.4" transform="translate(919.50,350.70) scale(0.9228,1)">DNA</text>
<rect x="989.8" y="353.10" width="17.9" height="2.9" fill="#000"/>
<text class="bold" font-size="35.4" transform="translate(1007.80,350.70) scale(0.9993,1)">3</text>
<line x1="817.6" y1="401.2" x2="891.6" y2="401.2" stroke="#dfe5f3" stroke-width="9.4" stroke-linecap="round"/>
<text class="bold" font-size="35.4" transform="translate(898.13,411.30) scale(1.0404,1)">g</text>
<text class="bold" font-size="35.4" transform="translate(919.50,411.30) scale(0.9228,1)">DNA</text>
<rect x="989.8" y="413.70" width="17.9" height="2.9" fill="#000"/>
<text class="bold" font-size="35.4" transform="translate(1008.11,411.30) scale(0.9293,1)">4</text>
</g>
</svg>
</body>
</html>
